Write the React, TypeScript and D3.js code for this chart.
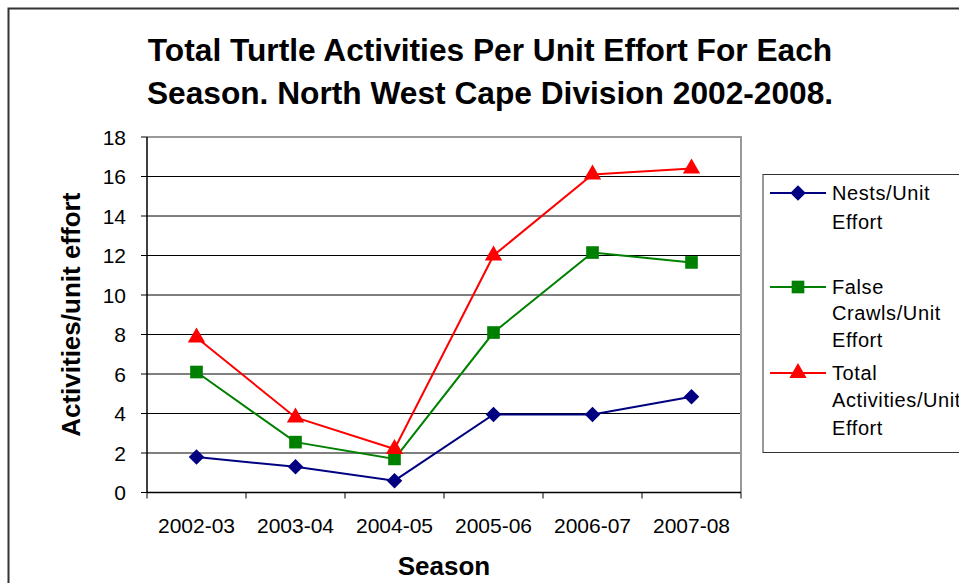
import React from 'react';
import * as d3 from 'd3';

const seasons = ['2002-03', '2003-04', '2004-05', '2005-06', '2006-07', '2007-08'];
const nests = [1.8, 1.3, 0.6, 3.95, 3.95, 4.85];
const falseCrawls = [6.1, 2.55, 1.7, 8.1, 12.15, 11.65];
const totals = [7.85, 3.8, 2.2, 12.0, 16.1, 16.4];
const yTicks = [0, 2, 4, 6, 8, 10, 12, 14, 16, 18];

const titleLines = [
  'Total Turtle Activities Per Unit Effort For Each',
  'Season. North West Cape Division 2002-2008.',
];

const series = [
  { name: ['Nests/Unit', 'Effort'], values: nests, color: '#000080', shape: 'diamond' },
  { name: ['False', 'Crawls/Unit', 'Effort'], values: falseCrawls, color: '#008000', shape: 'square' },
  { name: ['Total', 'Activities/Unit', 'Effort'], values: totals, color: '#FF0000', shape: 'triangle' },
];

const font = '"Liberation Sans", Arial, sans-serif';

const W = 959;
const H = 583;
const plot = { left: 147, right: 741, top: 137, bottom: 492.5 };

const markerPath = (shape: string) => {
  if (shape === 'square') return d3.symbol(d3.symbolSquare, 160)()!;
  if (shape === 'triangle') return d3.symbol(d3.symbolTriangle, 130)()!;
  return d3.symbol(d3.symbolSquare, 120)()!;
};

const Marker = ({ shape, color, x, y }: { shape: string; color: string; x: number; y: number }) => (
  <path
    d={markerPath(shape)}
    fill={color}
    transform={`translate(${x},${y})${shape === 'diamond' ? ' rotate(45)' : ''}`}
  />
);

export default function App() {
  const x = d3.scaleBand<string>().domain(seasons).range([plot.left, plot.right]);
  const y = d3.scaleLinear().domain([0, 18]).range([plot.bottom, plot.top]);
  const cx = (s: string) => (x(s) || 0) + x.bandwidth() / 2;

  const line = d3
    .line<number>()
    .x((_, i) => cx(seasons[i]))
    .y(d => y(d));

  // legend row positions
  const legendRows = [[193, 222], [287, 313, 340], [373, 400, 428]];

  return (
    <svg
      width={W}
      height={H}
      style={{ position: 'fixed', left: 0, top: 0, background: '#fff' }}
      fontFamily={font}
    >
      <rect x={0} y={0} width={W} height={H} fill="#fff" />
      {/* outer frame */}
      <rect x={8.5} y={8.5} width={W + 20} height={H + 20} fill="none" stroke="#333" strokeWidth={2} />

      {titleLines.map((t, i) => (
        <text key={t} x={490} y={61 + i * 43} textAnchor="middle" fontSize={31.7} fontWeight="bold">
          {t}
        </text>
      ))}

      {/* gridlines */}
      {yTicks.slice(1, -1).map(t => (
        <line key={t} x1={plot.left} x2={plot.right} y1={y(t)} y2={y(t)} stroke="#000" strokeWidth={1} />
      ))}

      {/* plot frame top/right */}
      <polyline
        points={`${plot.left},${plot.top} ${plot.right},${plot.top} ${plot.right},${plot.bottom}`}
        fill="none"
        stroke="#999"
        strokeWidth={2}
      />

      {/* y axis */}
      <line x1={plot.left} x2={plot.left} y1={plot.top} y2={plot.bottom} stroke="#000" strokeWidth={1.5} />
      {yTicks.map(t => (
        <g key={t}>
          <line x1={plot.left - 6} x2={plot.left} y1={y(t)} y2={y(t)} stroke="#000" />
          <text x={126} y={y(t)} dy="0.36em" textAnchor="end" fontSize={21}>
            {t}
          </text>
        </g>
      ))}

      {/* x axis */}
      <line x1={plot.left} x2={plot.right} y1={plot.bottom} y2={plot.bottom} stroke="#000" strokeWidth={1.5} />
      {seasons.concat(['']).map((s, i) => {
        const xx = plot.left + i * x.bandwidth();
        return <line key={i} x1={xx} x2={xx} y1={plot.bottom} y2={plot.bottom + 6} stroke="#000" />;
      })}
      {seasons.map(s => (
        <text key={s} x={cx(s)} y={533} textAnchor="middle" fontSize={21}>
          {s}
        </text>
      ))}

      {/* series */}
      {series.map(sr => (
        <g key={sr.name.join(' ')}>
          <path d={line(sr.values) || ''} fill="none" stroke={sr.color} strokeWidth={2} />
          {sr.values.map((v, i) => (
            <Marker key={i} shape={sr.shape} color={sr.color} x={cx(seasons[i])} y={y(v)} />
          ))}
        </g>
      ))}

      {/* axis titles */}
      <text
        transform={`translate(80,${(plot.top + plot.bottom) / 2}) rotate(-90)`}
        textAnchor="middle"
        fontSize={26}
        fontWeight="bold"
      >
        Activities/unit effort
      </text>
      <text x={444} y={575} textAnchor="middle" fontSize={26} fontWeight="bold">
        Season
      </text>

      {/* legend */}
      <rect x={763} y={174.5} width={230} height={278} fill="#fff" stroke="#333" strokeWidth={1} />
      {series.map((sr, k) => (
        <g key={k}>
          <line x1={770} x2={826} y1={legendRows[k][0]} y2={legendRows[k][0]} stroke={sr.color} strokeWidth={2} />
          <Marker shape={sr.shape} color={sr.color} x={798} y={legendRows[k][0]} />
          {sr.name.map((n, j) => (
            <text key={j} x={832} y={legendRows[k][j]} dy="0.36em" fontSize={20} letterSpacing={0.6}>
              {n}
            </text>
          ))}
        </g>
      ))}
    </svg>
  );
}
